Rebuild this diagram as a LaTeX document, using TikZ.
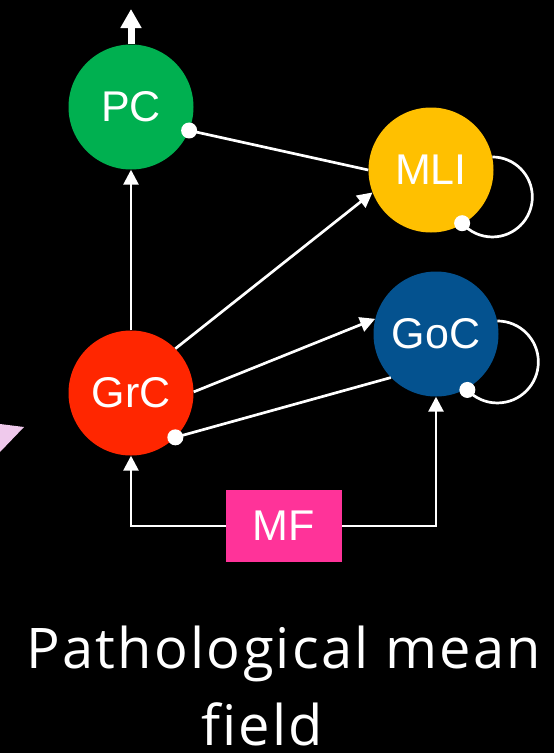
\documentclass[tikz,border=0pt]{standalone}
\usepackage{fontspec}
\setmainfont{Liberation Sans}
\newfontfamily\captionfont[Ligatures=NoCommon,LetterSpace=4]{Open Sans}
\usetikzlibrary{arrows.meta}
\definecolor{pcgreen}{HTML}{00B050}
\definecolor{mliyellow}{HTML}{FFC000}
\definecolor{gocblue}{HTML}{04528F}
\definecolor{grcred}{HTML}{FF2600}
\definecolor{mfpink}{HTML}{FF3399}
\definecolor{tripink}{HTML}{EFC9EC}
\tikzset{
  cell/.style={circle, minimum size=125pt, inner sep=0pt, text=white, font=\fontsize{43}{43}\selectfont},
  conn/.style={draw=white, line width=2.7pt},
  exc/.style={conn, -{Triangle[width=15pt,length=15pt]}},
  dotend/.style={fill=white},
  caption/.style={anchor=base, text=white, inner sep=0pt, text depth=0pt, font=\captionfont\fontsize{56}{56}\selectfont},
}
\begin{document}
\begin{tikzpicture}[x=1pt,y=-1pt]
\fill[black] (0,0) rectangle (554,753);
\useasboundingbox (0,0) rectangle (554,753);
\fill[tripink] (0,424) -- (24,427) -- (0,452) -- cycle;

\node[cell, fill=pcgreen] (PC) at (131,107) {PC};
\node[cell, fill=mliyellow] (MLI) at (431,170) {MLI};
\node[cell, fill=gocblue] (GoC) at (436,334) {GoC};
\node[cell, fill=grcred] (GrC) at (131,393) {GrC};
\node[fill=mfpink, minimum width=116pt, minimum height=72pt, inner sep=0pt, text=white, font=\fontsize{43}{43}\selectfont] (MF) at (284,526) {MF};

\coordinate (out) at (131,9);
\draw[draw=white, line width=7pt, -{Triangle[width=20pt,length=19pt]}] (PC.north) -- (out);

% excitatory
\draw[exc] (GrC.north) -- (PC.south);
\draw[exc] (GrC.45) -- (MLI.201);
\draw[exc] (GrC.1) -- (GoC.166);
\draw[exc] (MF.west) -| (GrC.south);
\draw[exc] (MF.east) -| (GoC.south);

% inhibitory
\draw[conn] (MLI.180) -- (PC.-22);
\fill[dotend] (PC.-22) circle (8);
\draw[conn] (GoC.224) -- (GrC.-45);
\fill[dotend] (GrC.-45) circle (8);
\draw[conn] (MLI.12) arc[start angle=-90, end angle=139, radius=40] coordinate (mlidot);
\fill[dotend] (mlidot) circle (8);
\draw[conn] (GoC.12) arc[start angle=-90, end angle=137, radius=41] coordinate (gocdot);
\fill[dotend] (gocdot) circle (8);

\node[caption] (cap1) at (284,668) {Pathological mean};
\node[caption] (cap2) at (262,745) {field};
\end{tikzpicture}
\end{document}
